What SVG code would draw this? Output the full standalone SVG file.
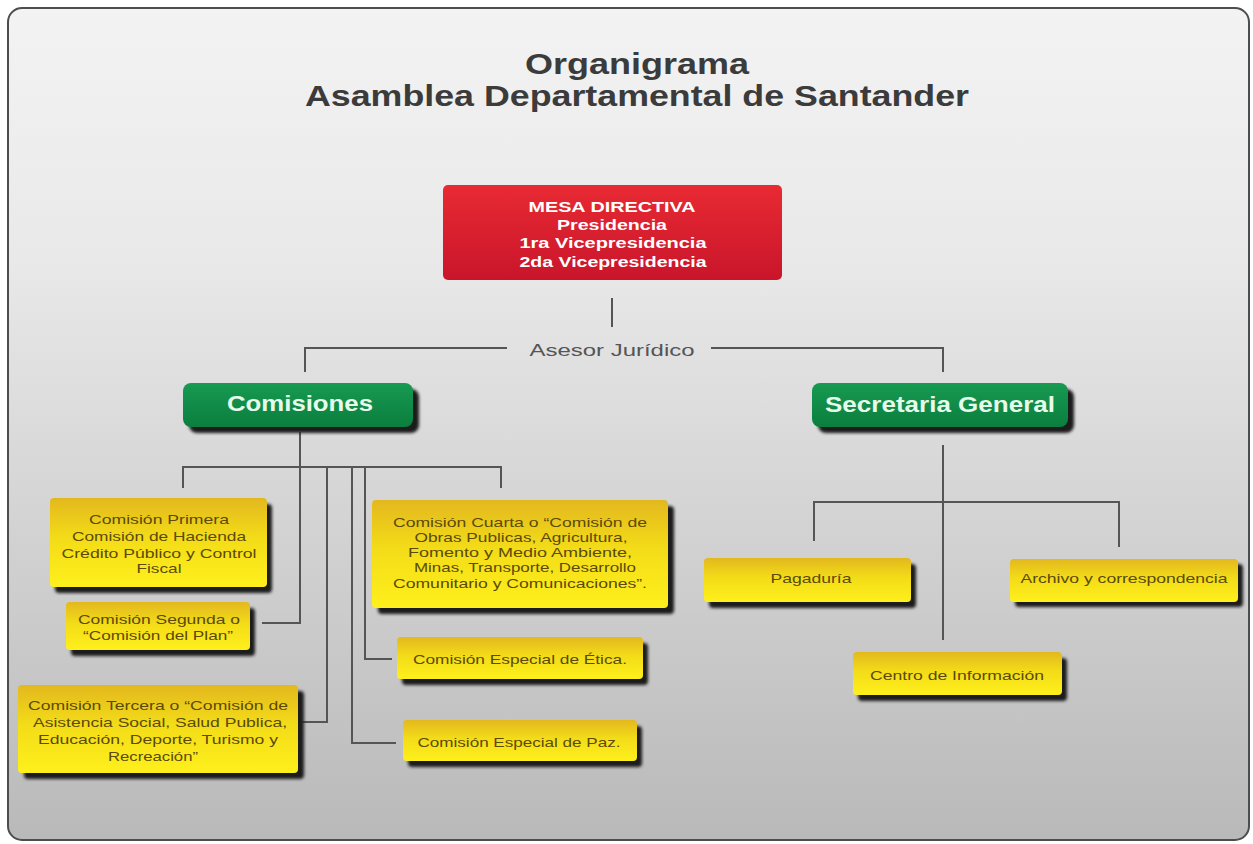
<svg xmlns="http://www.w3.org/2000/svg" width="1253" height="844" viewBox="0 0 1253 844">
  <defs>
    <linearGradient id="bg" x1="0" y1="0" x2="0" y2="1">
      <stop offset="0" stop-color="#f3f3f3"/>
      <stop offset="0.3" stop-color="#e9e9e9"/>
      <stop offset="1" stop-color="#b9b9b9"/>
    </linearGradient>
    <linearGradient id="red" x1="0" y1="0" x2="0" y2="1">
      <stop offset="0" stop-color="#e82a33"/>
      <stop offset="1" stop-color="#c9152b"/>
    </linearGradient>
    <linearGradient id="green" x1="0" y1="0" x2="0" y2="1">
      <stop offset="0" stop-color="#179a52"/>
      <stop offset="1" stop-color="#0b7e3e"/>
    </linearGradient>
    <linearGradient id="yellow" x1="0" y1="0" x2="0" y2="1">
      <stop offset="0" stop-color="#e3b81e"/>
      <stop offset="0.45" stop-color="#f3dc18"/>
      <stop offset="1" stop-color="#fff01c"/>
    </linearGradient>
    <filter id="blur" x="-10%" y="-20%" width="120%" height="140%">
      <feGaussianBlur stdDeviation="1.6"/>
    </filter>
    <style>
      .shadow { fill: #1c1c1c; filter: url(#blur); }
      .ybox { fill: url(#yellow); }
      .gbox { fill: url(#green); }
      .ytxt { font-family: "Liberation Sans", Arial, sans-serif; font-size: 13px; fill: #5b4a08; text-anchor: middle; }
      .gtxt { font-family: "Liberation Sans", Arial, sans-serif; font-size: 22px; font-weight: bold; fill: #e6fbe9; text-anchor: middle; }
      .rtxt { font-family: "Liberation Sans", Arial, sans-serif; font-size: 14px; font-weight: bold; fill: #ffffff; text-anchor: middle; }
      .title { font-family: "Liberation Sans", Arial, sans-serif; font-size: 29px; font-weight: bold; fill: #3b3b3b; text-anchor: middle; }
      .conn { fill: none; stroke: #555555; stroke-width: 2; }
      .label { font-family: "Liberation Sans", Arial, sans-serif; font-size: 17px; fill: #555555; text-anchor: middle; }
    </style>
  </defs>

  <rect x="0" y="0" width="1253" height="844" fill="#ffffff"/>
  <rect x="8" y="8" width="1241" height="832" rx="14" fill="url(#bg)" stroke="#4d4d4d" stroke-width="2"/>

  <g id="title">
    <text class="title" x="637" y="74" textLength="224" lengthAdjust="spacingAndGlyphs">Organigrama</text>
    <text class="title" x="637" y="106" textLength="664" lengthAdjust="spacingAndGlyphs">Asamblea Departamental de Santander</text>
  </g>

  <g id="connectors">
    <line class="conn" x1="612" y1="298" x2="612" y2="327"/>
    <polyline class="conn" points="507,348 305,348 305,372"/>
    <polyline class="conn" points="711,348 943,348 943,372"/>
    <!-- Comisiones -->
    <polyline class="conn" points="300,432 300,623 262,623"/>
    <polyline class="conn" points="183,488 183,467 501,467 501,488"/>
    <polyline class="conn" points="327,467 327,722 302,722"/>
    <polyline class="conn" points="352,467 352,743 396,743"/>
    <polyline class="conn" points="365,467 365,659 392,659"/>
    <!-- Secretaria -->
    <line class="conn" x1="943" y1="445" x2="943" y2="640"/>
    <polyline class="conn" points="814,541 814,502 1119,502 1119,547"/>
  </g>

  <g id="asesor">
    <text class="label" x="612" y="356" textLength="165" lengthAdjust="spacingAndGlyphs">Asesor Jurídico</text>
  </g>

  <g id="mesa-directiva">
    <rect x="443" y="185" width="339" height="95" rx="5" fill="url(#red)"/>
    <text class="rtxt" x="612" y="212" textLength="167" lengthAdjust="spacingAndGlyphs">MESA DIRECTIVA</text>
    <text class="rtxt" x="612" y="230" textLength="110" lengthAdjust="spacingAndGlyphs">Presidencia</text>
    <text class="rtxt" x="613" y="248" textLength="187" lengthAdjust="spacingAndGlyphs">1ra Vicepresidencia</text>
    <text class="rtxt" x="613" y="267" textLength="187" lengthAdjust="spacingAndGlyphs">2da Vicepresidencia</text>
  </g>

  <g id="comisiones">
    <rect class="shadow" x="189" y="389" width="230" height="44" rx="8"/>
    <rect class="gbox" x="183" y="383" width="230" height="44" rx="8"/>
    <text class="gtxt" x="300" y="411" textLength="146" lengthAdjust="spacingAndGlyphs">Comisiones</text>
  </g>

  <g id="secretaria-general">
    <rect class="shadow" x="818" y="389" width="256" height="44" rx="8"/>
    <rect class="gbox" x="812" y="383" width="256" height="44" rx="8"/>
    <text class="gtxt" x="940" y="412" textLength="230" lengthAdjust="spacingAndGlyphs">Secretaria General</text>
  </g>

  <g id="comision-primera">
    <rect class="shadow" x="55" y="504" width="217" height="89" rx="4"/>
    <rect class="ybox" x="50" y="498" width="217" height="89" rx="4"/>
    <text class="ytxt" x="159" y="524" textLength="140" lengthAdjust="spacingAndGlyphs">Comisión Primera</text>
    <text class="ytxt" x="159" y="541" textLength="174" lengthAdjust="spacingAndGlyphs">Comisión de Hacienda</text>
    <text class="ytxt" x="159" y="558" textLength="195" lengthAdjust="spacingAndGlyphs">Crédito Público y Control</text>
    <text class="ytxt" x="159" y="573" textLength="45" lengthAdjust="spacingAndGlyphs">Fiscal</text>
  </g>

  <g id="comision-segunda">
    <rect class="shadow" x="71" y="608" width="184" height="48" rx="4"/>
    <rect class="ybox" x="66" y="602" width="184" height="48" rx="4"/>
    <text class="ytxt" x="159" y="624" textLength="162" lengthAdjust="spacingAndGlyphs">Comisión Segunda o</text>
    <text class="ytxt" x="158" y="640" textLength="150" lengthAdjust="spacingAndGlyphs">“Comisión del Plan”</text>
  </g>

  <g id="comision-tercera">
    <rect class="shadow" x="24" y="691" width="280" height="88" rx="4"/>
    <rect class="ybox" x="18" y="685" width="280" height="88" rx="4"/>
    <text class="ytxt" x="158" y="710" textLength="260" lengthAdjust="spacingAndGlyphs">Comisión Tercera o “Comisión de</text>
    <text class="ytxt" x="160" y="727" textLength="254" lengthAdjust="spacingAndGlyphs">Asistencia Social, Salud Publica,</text>
    <text class="ytxt" x="158" y="744" textLength="240" lengthAdjust="spacingAndGlyphs">Educación, Deporte, Turismo y</text>
    <text class="ytxt" x="153" y="761" textLength="90" lengthAdjust="spacingAndGlyphs">Recreación”</text>
  </g>

  <g id="comision-cuarta">
    <rect class="shadow" x="378" y="506" width="296" height="108" rx="4"/>
    <rect class="ybox" x="372" y="500" width="296" height="108" rx="4"/>
    <text class="ytxt" x="520" y="527" textLength="254" lengthAdjust="spacingAndGlyphs">Comisión Cuarta o “Comisión de</text>
    <text class="ytxt" x="521" y="542" textLength="213" lengthAdjust="spacingAndGlyphs">Obras Publicas, Agricultura,</text>
    <text class="ytxt" x="520" y="557" textLength="224" lengthAdjust="spacingAndGlyphs">Fomento y Medio Ambiente,</text>
    <text class="ytxt" x="525" y="572" textLength="222" lengthAdjust="spacingAndGlyphs">Minas, Transporte, Desarrollo</text>
    <text class="ytxt" x="520" y="588" textLength="254" lengthAdjust="spacingAndGlyphs">Comunitario y Comunicaciones”.</text>
  </g>

  <g id="comision-etica">
    <rect class="shadow" x="402" y="643" width="246" height="42" rx="4"/>
    <rect class="ybox" x="397" y="637" width="246" height="42" rx="4"/>
    <text class="ytxt" x="520" y="664" textLength="214" lengthAdjust="spacingAndGlyphs">Comisión Especial de Ética.</text>
  </g>

  <g id="comision-paz">
    <rect class="shadow" x="408" y="726" width="234" height="41" rx="4"/>
    <rect class="ybox" x="403" y="720" width="234" height="41" rx="4"/>
    <text class="ytxt" x="519" y="747" textLength="203" lengthAdjust="spacingAndGlyphs">Comisión Especial de Paz.</text>
  </g>

  <g id="pagaduria">
    <rect class="shadow" x="709" y="564" width="207" height="44" rx="4"/>
    <rect class="ybox" x="704" y="558" width="207" height="44" rx="4"/>
    <text class="ytxt" x="811" y="583" textLength="81" lengthAdjust="spacingAndGlyphs">Pagaduría</text>
  </g>

  <g id="archivo">
    <rect class="shadow" x="1015" y="564" width="228" height="43" rx="4"/>
    <rect class="ybox" x="1010" y="559" width="228" height="43" rx="4"/>
    <text class="ytxt" x="1124" y="583" textLength="207" lengthAdjust="spacingAndGlyphs">Archivo y correspondencia</text>
  </g>

  <g id="centro-informacion">
    <rect class="shadow" x="858" y="658" width="209" height="43" rx="4"/>
    <rect class="ybox" x="853" y="652" width="209" height="43" rx="4"/>
    <text class="ytxt" x="957" y="680" textLength="174" lengthAdjust="spacingAndGlyphs">Centro de Información</text>
  </g>
</svg>
